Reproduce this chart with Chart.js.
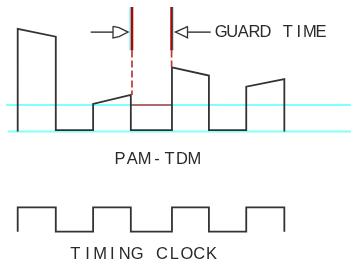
<!DOCTYPE html>
<html>
<head>
<meta charset="utf-8">
<script src="https://cdn.jsdelivr.net/npm/chart.js@4.4.1/dist/chart.umd.min.js"></script>
<style>
  html, body { margin: 0; padding: 0; background: #ffffff; }
  #wrap { width: 351px; height: 265px; position: relative; }
</style>
</head>
<body>
<div id="wrap"><canvas id="c" width="351" height="265"></canvas></div>
<script>
// ---- data (time in slot units, PAM amplitude in reference units, clock 0/1) ----
const slotEdges   = [0, 1.0, 1.98, 2.97, 4.05, 5.02, 6.0, 7.0];
const pulseStart  = [3.87, 1.04, 2.42, 1.69];   // amplitude at leading edge of each PAM pulse
const pulseEnd    = [3.58, 1.38, 2.11, 1.98];   // amplitude at trailing edge (sample droop/rise)
const restLevel   = 0.05;                       // level between pulses
const clockLevels = [1, 0, 1, 0, 1, 0, 1];      // timing clock state in each slot
const refLevels   = [0, 1];                     // cyan reference lines
const guardTimes  = [3.0, 4.04];                // guard-time markers
const guardTop    = 4.70;
const guardSolidEnd = 3.06;
const arrowLevel  = 3.75;
const labelTexts  = ['GUARD TIME', 'PAM-TDM', 'TIMING CLOCK'];

// ---- build point lists ----
const pam = [{x: slotEdges[0], y: 0}];
let p = 0;
for (let i = 0; i < slotEdges.length - 1; i++) {
  const t0 = slotEdges[i], t1 = slotEdges[i + 1];
  if (i % 2 === 0) {
    pam.push({x: t0, y: pulseStart[p]});
    pam.push({x: t1, y: pulseEnd[p]});
    pam.push({x: t1, y: (i === slotEdges.length - 2) ? 0 : restLevel});
    p++;
  } else {
    pam.push({x: t0, y: restLevel});
    pam.push({x: t1, y: restLevel});
  }
}
const clock = [{x: slotEdges[0], y: 0}];
for (let i = 0; i < clockLevels.length; i++) {
  clock.push({x: slotEdges[i], y: clockLevels[i]});
  clock.push({x: slotEdges[i + 1], y: clockLevels[i]});
}
clock.push({x: slotEdges[slotEdges.length - 1], y: 0});

const X_MIN = -0.4647, X_MAX = 8.75;
const BLACK = '#333333', RED = '#a80808', RED_LIGHT = '#c03838', CYAN = '#80ffff';

function seg(points, color, width, order, extra) {
  return Object.assign({
    data: points, showLine: true, borderColor: color, borderWidth: width,
    pointRadius: 0, fill: false, tension: 0, order: order, yAxisID: 'y'
  }, extra || {});
}

const pulseTops = [pulseEnd[1], pulseStart[2]];
const datasets = [
  // cyan reference levels
  seg([{x: -0.25, y: refLevels[0]}, {x: X_MAX, y: refLevels[0]}], CYAN, 2, 10),
  seg([{x: -0.31, y: refLevels[1]}, {x: X_MAX, y: refLevels[1]}], CYAN, 2, 10),
  // red guard band floor
  seg([{x: slotEdges[3], y: refLevels[1]}, {x: slotEdges[4], y: refLevels[1]}], RED_LIGHT, 1.6, 9),
  // PAM waveform
  seg(pam, BLACK, 1.8, 5),
  // timing clock
  seg(clock, BLACK, 1.8, 5, {yAxisID: 'yc'}),
  // cyan halo beside the guard markers
  seg([{x: guardTimes[0] - 0.053, y: guardTop}, {x: guardTimes[0] - 0.053, y: guardSolidEnd}], CYAN, 1.5, 4),
  seg([{x: guardTimes[1] + 0.045, y: guardTop}, {x: guardTimes[1] + 0.045, y: guardSolidEnd}], CYAN, 1.5, 4),
  // guard markers solid
  seg([{x: guardTimes[0], y: guardTop}, {x: guardTimes[0], y: guardSolidEnd}], RED, 2.6, 3),
  seg([{x: guardTimes[1], y: guardTop}, {x: guardTimes[1], y: guardSolidEnd}], RED, 2.6, 3),
  // guard markers dashed
  seg([{x: guardTimes[0], y: guardSolidEnd}, {x: guardTimes[0], y: pulseTops[0]}], RED_LIGHT, 1.7, 3, {borderDash: [7, 3]}),
  seg([{x: guardTimes[1], y: guardSolidEnd}, {x: guardTimes[1], y: pulseTops[1]}], RED_LIGHT, 1.7, 3, {borderDash: [7, 3]}),
  // left arrow
  seg([{x: 1.917, y: arrowLevel}, {x: 2.502, y: arrowLevel}], BLACK, 1.4, 2),
  seg([{x: 2.502, y: arrowLevel + 0.22}, {x: 2.502, y: arrowLevel - 0.22}, {x: 2.66, y: arrowLevel - 0.17},
       {x: 2.90, y: arrowLevel}, {x: 2.66, y: arrowLevel + 0.17}, {x: 2.502, y: arrowLevel + 0.22}], BLACK, 1.3, 2),
  // right arrow
  seg([{x: 4.458, y: arrowLevel}, {x: 5.067, y: arrowLevel}], BLACK, 1.4, 2),
  seg([{x: 4.458, y: arrowLevel + 0.22}, {x: 4.458, y: arrowLevel - 0.22}, {x: 4.40, y: arrowLevel - 0.17},
       {x: 4.14, y: arrowLevel}, {x: 4.40, y: arrowLevel + 0.17}, {x: 4.458, y: arrowLevel + 0.22}], BLACK, 1.3, 2)
];

// text labels placed through the scales (monospaced cells)
const labelSpecs = [
  {text: labelTexts[0], x: 5.21, y: 3.78, axis: 'y',  align: 'left',   adv: 11.1},
  {text: labelTexts[1], x: 3.66, y: -1.02, axis: 'y', align: 'center', adv: 12.4},
  {text: labelTexts[2], x: 3.30, y: -0.873, axis: 'yc', align: 'center', adv: 12.4}
];
const textPlugin = {
  id: 'labels',
  afterDatasetsDraw(chart) {
    const ctx = chart.ctx;
    ctx.save();
    ctx.fillStyle = '#2a2a2a';
    ctx.font = '16.5px "Liberation Sans"';
    ctx.textBaseline = 'middle';
    ctx.textAlign = 'center';
    labelSpecs.forEach(s => {
      const px = chart.scales.x.getPixelForValue(s.x);
      const py = chart.scales[s.axis].getPixelForValue(s.y);
      const n = s.text.length;
      const cellW = 10;   // visible glyph box width
      const total = (n - 1) * s.adv + cellW;
      const start = s.align === 'center' ? px - total / 2 : px;
      for (let i = 0; i < n; i++) {
        ctx.fillText(s.text[i], start + i * s.adv + cellW / 2, py + 1);
      }
    });
    ctx.restore();
  }
};

new Chart(document.getElementById('c'), {
  type: 'scatter',
  data: { datasets: datasets },
  options: {
    responsive: false,
    animation: false,
    events: [],
    layout: { padding: 0 },
    plugins: { legend: { display: false }, tooltip: { enabled: false } },
    scales: {
      x:  { type: 'linear', display: false, min: X_MIN, max: X_MAX },
      y:  { type: 'linear', display: false, min: -5.038, max: 4.962 },
      yc: { type: 'linear', display: false, min: -1.365, max: 9.496 }
    }
  },
  plugins: [textPlugin]
});
</script>
</body>
</html>
